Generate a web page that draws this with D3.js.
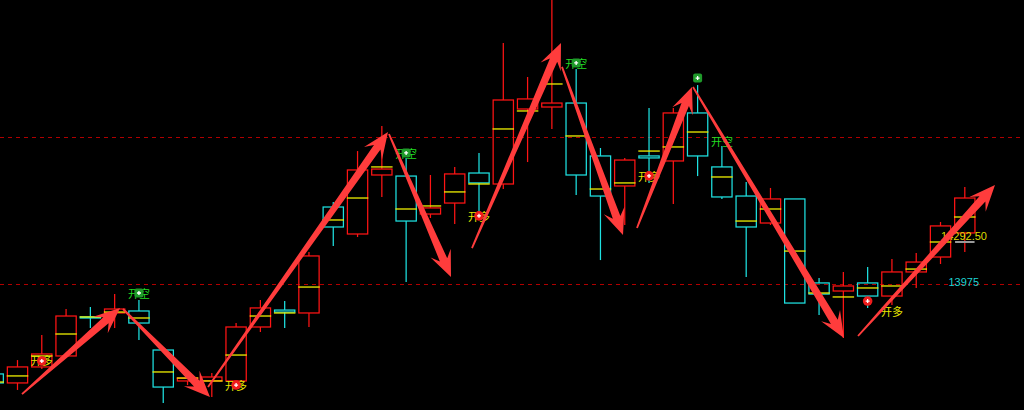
<!DOCTYPE html>
<html><head><meta charset="utf-8">
<script src="https://cdn.jsdelivr.net/npm/d3@7"></script>
<style>html,body{margin:0;padding:0;background:#000;overflow:hidden}</style>
</head><body>
<svg id="c" width="1024" height="410"></svg>
<script>
// ---- data ----
const categories = ["0","1","2","3","4","5","6","7","8","9","10","11","12","13","14","15","16","17","18","19","20",
  "21","22","23","24","25","26","27","28","29","30","31","32","33","34","35","36","37","38","39","40"];
const opens  = [13295,13227,13348,13431,13726,13756,13771,13476,13242,13242,13242,13650,13778,13756,14557,14353,14799,14791,14504,14587,14814,
  14731,15298,15313,15343,14943,14716,14943,14905,15268,14860,14640,14436,14618,13983,13922,13983,13884,14066,14179,14361];
const highs  = [13317,13400,13589,13786,13801,13899,13854,13476,13280,13302,13680,13854,13846,14217,14595,14980,15170,14928,14799,14860,14965,
  15797,15540,16160,15600,15003,14928,15306,15306,15479,15018,14746,14701,14618,14020,14066,14104,14164,14209,14444,14708];
const lows   = [13204,13174,13332,13416,13642,13642,13552,13075,13211,13121,13219,13612,13642,13650,14262,14330,14633,13990,14474,14429,14459,
  14693,14897,15147,14648,14156,14421,14739,14580,14791,14618,14028,14421,13831,13741,13567,13794,13816,13945,14126,14217];
const closes = [13227,13348,13446,13733,13718,13786,13680,13196,13264,13272,13650,13794,13763,14187,14406,14837,14844,14451,14550,14807,14739,
  15366,15374,15343,14799,14640,14912,14928,15268,14943,14633,14406,14618,13831,13899,13960,13884,14066,14141,14414,14625];
const avgLine = [13234,13280,13431,13597,13726,13763,13718,13310,13264,13242,13438,13733,13756,13952,14459,14625,14860,14542,14565,14671,14731,
  15147,15283,15487,15094,14693,14739,14980,15011,15124,14784,14451,14542,14224,13907,13877,13945,13960,14088,14292.5,14481.5];

const levelLines = [15086, 13975];
const levelLabel = "13975";
const lastPrice = 14292.5;
const lastPriceLabel = "14292.50";

// signal markers: candle index + price
const longDots   = [{i:2,p:13393},{i:10,p:13211},{i:20,p:14490},{i:27,p:14792},{i:36,p:13846}];
const longTexts  = [{i:2,p:13393},{i:10,p:13204},{i:20,p:14482},{i:27,p:14784},{i:37,p:13763}];
const shortDots  = [{i:6,p:13907},{i:17,p:14966},{i:24,p:15646},{i:29,p:15532}];
const shortTexts = [{i:6,p:13899},{i:17,p:14958},{i:24,p:15638},{i:30,p:15049}];
const longText = "开多", shortText = "开空";

// annotation arrows: [from(index, price), to(index, price)]
const arrows = [
  [[1.185,13143],[5.22,13794]],
  [[5.343,13786],[8.925,13121]],
  [[8.843,13196],[16.253,15124]],
  [[16.294,15109],[18.847,14028]],
  [[19.711,14247],[23.376,15797]],
  [[23.417,15616],[25.928,14345]],
  [[26.504,14398],[28.769,15464]],
  [[28.81,15464],[35.026,13567]],
  [[35.603,13582],[41.243,14723]]
];

// ---- drawing ----
const W = 1024, H = 410;
const svg = d3.select('#c');
svg.append('rect').attr('width', W).attr('height', H).attr('fill', '#000');

const x = d3.scaleBand().domain(categories).range([-18.94, 976.95]).paddingInner(0.115).paddingOuter(0.0575);
const bw = x.bandwidth();
const cx = i => x(categories[i]) + bw / 2;
const xi = d3.scaleLinear().domain([0, categories.length - 1]).range([cx(0), cx(categories.length - 1)]);
const y = d3.scaleLinear().domain([13975, 14292.5]).range([284, 242]);

const RED = '#ff1414', CYAN = '#1ee1e1', YEL = '#f0f000';
const SW = 1.25;

// dashed level lines
svg.selectAll('line.lvl').data(levelLines).join('line').attr('class', 'lvl')
  .attr('x1', 0).attr('x2', W)
  .attr('y1', d => Math.round(y(d)) + 0.5).attr('y2', d => Math.round(y(d)) + 0.5)
  .attr('stroke', '#b00000').attr('stroke-width', 1).attr('stroke-dasharray', '4,4');

const candles = categories.map((c, i) => ({c, i, o: opens[i], h: highs[i], l: lows[i], cl: closes[i], a: avgLine[i]}));
const g = svg.append('g');
candles.forEach(d => {
  const col = d.cl >= d.o ? RED : CYAN;
  const top = Math.max(d.o, d.cl), bot = Math.min(d.o, d.cl);
  const xc = cx(d.i);
  if (d.h > top) g.append('line').attr('x1', xc).attr('x2', xc).attr('y1', y(d.h)).attr('y2', y(top)).attr('stroke', col).attr('stroke-width', SW);
  if (d.l < bot) g.append('line').attr('x1', xc).attr('x2', xc).attr('y1', y(bot)).attr('y2', y(d.l)).attr('stroke', col).attr('stroke-width', SW);
  g.append('rect').attr('x', x(d.c) + 0.6).attr('width', bw - 1.2)
    .attr('y', y(top)).attr('height', Math.max(y(bot) - y(top), 0.6))
    .attr('fill', 'none').attr('stroke', col).attr('stroke-width', SW);
  g.append('line').attr('x1', x(d.c)).attr('x2', x(d.c) + bw)
    .attr('y1', y(d.a)).attr('y2', y(d.a)).attr('stroke', YEL).attr('stroke-width', 1.3);
});

// last price marker & labels
const li = categories.length - 1;
svg.append('line').attr('x1', x(categories[li]) + 1).attr('x2', x(categories[li]) + bw - 1)
  .attr('y1', y(lastPrice)).attr('y2', y(lastPrice)).attr('stroke', '#9a9a9a').attr('stroke-width', 2);
svg.append('text').attr('x', 987).attr('y', y(lastPrice) - 2).attr('text-anchor', 'end')
  .attr('font-family', 'Liberation Sans, Arial, sans-serif').attr('font-size', 11).attr('fill', '#dcdc00').text(lastPriceLabel);
svg.append('text').attr('x', 979).attr('y', y(levelLines[1]) + 2).attr('text-anchor', 'end')
  .attr('font-family', 'Liberation Sans, Arial, sans-serif').attr('font-size', 11).attr('fill', '#1ed2d2').text(levelLabel);

// signal texts
const tf = "'Noto Sans CJK SC', sans-serif";
svg.selectAll('text.lt').data(longTexts).join('text').attr('class', 'lt')
  .attr('x', d => xi(d.i)).attr('y', d => y(d.p) + 4).attr('text-anchor', 'middle')
  .attr('font-family', tf).attr('font-size', 11).attr('fill', '#e6e600').text(longText);
svg.selectAll('text.st').data(shortTexts).join('text').attr('class', 'st')
  .attr('x', d => xi(d.i)).attr('y', d => y(d.p) + 4).attr('text-anchor', 'middle')
  .attr('font-family', tf).attr('font-size', 11).attr('fill', '#22dc22').text(shortText);

// signal dots
longDots.forEach(d => {
  const px = xi(d.i), py = y(d.p);
  svg.append('circle').attr('cx', px).attr('cy', py).attr('r', 4.8).attr('fill', '#f01c1c');
  svg.append('path').attr('d', `M${px-2},${py}H${px+2}M${px},${py-2}V${py+2}`).attr('stroke', '#fff').attr('stroke-width', 1.3);
});
shortDots.forEach(d => {
  const px = xi(d.i), py = y(d.p);
  svg.append('rect').attr('x', px - 4.5).attr('y', py - 4.5).attr('width', 9).attr('height', 9).attr('rx', 2).attr('fill', '#1f9a2a');
  svg.append('path').attr('d', `M${px-2},${py}H${px+2}M${px},${py-2}V${py+2}`).attr('stroke', '#fff').attr('stroke-width', 1.3);
});

// arrows
function arrowPath(x0, y0, x1, y1) {
  const dx = x1 - x0, dy = y1 - y0, L = Math.hypot(dx, dy);
  const ux = dx / L, uy = dy / L, nx = -uy, ny = ux;
  const w0 = 1.8, w1 = 8, hw = 11, hl = 26;
  const P = (a, b) => [x0 + ux * a + nx * b, y0 + uy * a + ny * b];
  const pts = [P(0, w0/2), P(L - hl * 0.72, w1/2), P(L - hl, hw), [x1, y1], P(L - hl, -hw), P(L - hl * 0.72, -w1/2), P(0, -w0/2)];
  return 'M' + pts.map(p => p[0].toFixed(2) + ',' + p[1].toFixed(2)).join('L') + 'Z';
}
svg.selectAll('path.arr').data(arrows).join('path').attr('class', 'arr')
  .attr('d', d => arrowPath(xi(d[0][0]), y(d[0][1]), xi(d[1][0]), y(d[1][1])))
  .attr('fill', '#ff3c3c');
</script>
</body></html>
